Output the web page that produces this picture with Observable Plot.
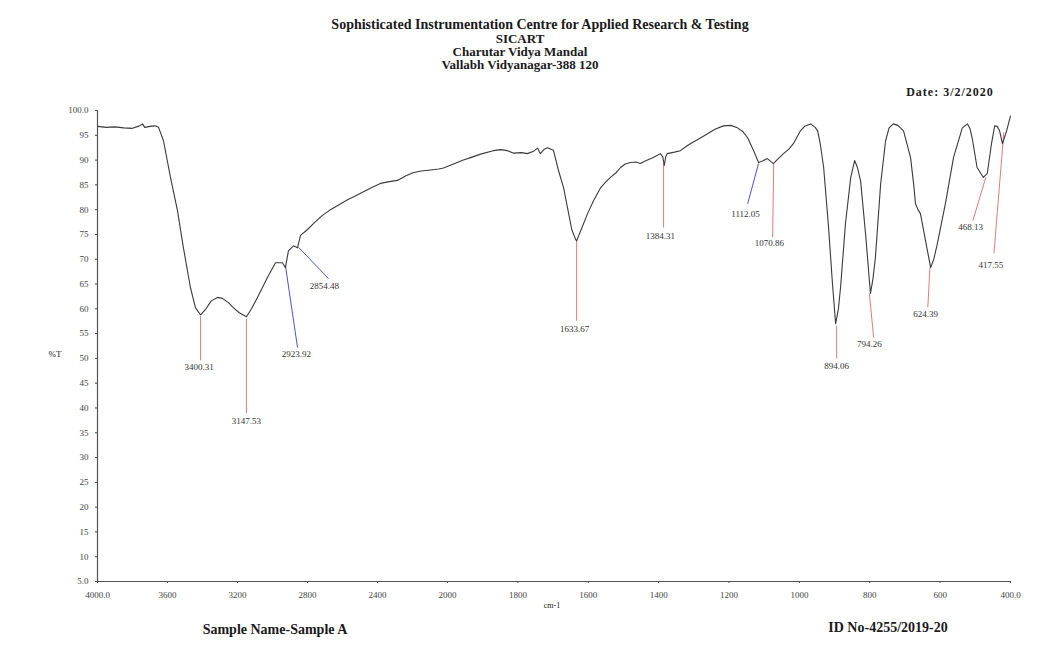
<!DOCTYPE html>
<html><head><meta charset="utf-8">
<script src="https://cdn.jsdelivr.net/npm/d3@7"></script>
<script src="https://cdn.jsdelivr.net/npm/@observablehq/plot@0.6"></script>
<style>
body{margin:0;background:#fff;}
#wrap{position:relative;width:1044px;height:670px;font-family:"Liberation Serif","Times New Roman",serif;}
.t{position:absolute;white-space:nowrap;color:#1a1a1a;transform:translate(-50%,-50%);line-height:1;}
.b{font-weight:bold;}
</style></head><body><div id="wrap"></div>
<script>
// Spectrum (wavenumber cm-1, %T)
const wavenumber = [4000,3950,3900,3850,3800,3760,3743,3730,3700,3670,3651,3623,3583,3543,3509,3469,3440,3411,3380,3350,3314,3286,3250,3223,3190,3149,3120,3086,3029,2983,2943,2926,2909,2880,2857,2840,2800,2766,2720,2669,2620,2571,2530,2480,2430,2383,2340,2286,2240,2194,2150,2097,2050,2023,1990,1955,1930,1906,1870,1849,1830,1812,1790,1773,1755,1744,1736,1725,1716,1699,1685,1670,1659,1647,1636,1633,1620,1602,1585,1565,1550,1537,1520,1508,1495,1480,1465,1452,1435,1415,1395,1388,1384,1380,1376,1355,1338,1325,1310,1285,1261,1240,1216,1195,1176,1160,1147,1130,1116,1105,1091,1074,1060,1045,1030,1017,997,985,968,955,948,940,931,917,906,897,889,883,869,854,843,835,826,812,798,791,784,769,755,745,733,720,704,684,675,670,663,656,636,627,618,608,585,562,537,522,515,509,495,477,466,454,445,438,431,423,411,400];
const transmittance = [96.8,96.6,96.7,96.5,96.4,96.9,97.3,96.6,96.8,96.9,96.6,93.9,86.5,79.8,72.3,64.3,60.2,58.8,60.0,61.6,62.3,62.1,61.2,60.2,59.2,58.4,60.0,62.3,66.3,69.3,69.3,68.3,71.7,72.7,72.3,74.8,76.0,77.2,78.7,80.0,81.0,82.0,82.7,83.6,84.5,85.3,85.6,85.9,86.8,87.5,87.8,88.0,88.2,88.4,89.0,90.0,90.6,91.2,91.9,92.1,91.9,91.4,91.5,91.3,91.8,92.4,91.3,92.2,92.5,92.0,88.0,84.4,80.4,76.0,74.0,73.7,76.0,79.2,81.8,84.4,85.6,86.5,87.5,88.5,89.2,89.5,89.6,89.3,89.9,90.5,91.3,90.6,88.9,90.6,91.3,91.6,91.9,92.6,93.3,94.3,95.3,96.2,96.9,97.0,96.5,95.7,94.5,91.9,89.5,89.8,90.3,89.3,90.3,91.3,92.2,93.3,95.9,96.8,97.3,96.6,95.9,93.0,88.5,76.4,65.1,57.0,60.0,64.3,77.2,86.5,89.9,88.5,85.8,75.2,63.1,66.0,70.3,85.2,93.9,96.5,97.3,97.0,95.9,90.5,85.0,81.2,80.0,79.2,71.7,68.3,70.0,73.1,81.2,90.5,96.5,97.3,96.3,94.5,88.5,86.5,87.3,93.3,96.9,96.8,95.9,93.3,95.9,98.9];

// Axis ticks
const xTicks = [4000,3600,3200,2800,2400,2000,1800,1600,1400,1200,1000,800,600,400];
const xTickLabels = ["4000.0","3600","3200","2800","2400","2000","1800","1600","1400","1200","1000","800","600","400.0"];
const yTicks = [100,95,90,85,80,75,70,65,60,55,50,45,40,35,30,25,20,15,10,5];
const yTickLabels = ["100.0","95","90","85","80","75","70","65","60","55","50","45","40","35","30","25","20","15","10","5.0"];

// Peak annotations
const peakLabels = ["3400.31","3147.53","2923.92","2854.48","1633.67","1384.31","1112.05","1070.86","894.06","794.26","624.39","468.13","417.55"];
const peakKind   = ["red","red","blue","blue","red","red","blue","red","red","red","red","red","red"];
const peakWn     = [3411,3149,2926,2851,1633,1386,1116,1073,894,801,629,470,419];
const peakT      = [58.6,58.0,68.7,72.4,73.8,89.3,89.3,89.3,56.6,63.1,68.3,86.5,95.6];
const leaderWn   = [3411,3149,2857,2680,1633,1386,1147,1076,894,789,635,507,447];
const leaderT    = [49.6,38.9,52.2,66.1,57.6,76.4,81.2,74.4,50.0,54.2,60.3,77.8,71.2];
const labelWn    = [3420,3149,2863,2703,1639,1395,1153,1085,894,801,641,513,456];
const labelT     = [48.3,37.3,50.8,64.5,56.0,74.6,79.2,73.2,48.4,52.8,58.9,76.4,68.9];

const spectrum = wavenumber.map((w, i) => ({w, t: transmittance[i]}));
const peaks = peakLabels.map((label, i) => ({
  label, kind: peakKind[i], x1: peakWn[i], y1: peakT[i], x2: leaderWn[i], y2: leaderT[i], lx: labelWn[i], ly: labelT[i]
}));

const chart = Plot.plot({
  width: 1044, height: 670,
  marginTop: 110, marginBottom: 89, marginLeft: 97, marginRight: 34,
  style: {fontFamily: "Liberation Serif, Times New Roman, serif", fontSize: "9px", color: "#444", background: "transparent"},
  x: {type: "linear", domain: [4000, 2000, 400], range: [97, 447, 1010], ticks: xTicks,
      tickFormat: d => xTickLabels[xTicks.indexOf(d)], tickSize: 2, tickPadding: 8, label: null},
  y: {domain: [5, 100], ticks: yTicks, tickFormat: d => yTickLabels[yTicks.indexOf(d)],
      tickSize: 2, tickPadding: 7, label: null},
  marks: [
    Plot.ruleX([4000], {stroke: "#555", strokeWidth: 1.2}),
    Plot.ruleY([5], {stroke: "#555", strokeWidth: 1.2}),
    Plot.link(peaks.filter(d => d.kind === "red"), {x1: "x1", y1: "y1", x2: "x2", y2: "y2", stroke: "#e67a7a", strokeWidth: 1}),
    Plot.link(peaks.filter(d => d.kind === "blue"), {x1: "x1", y1: "y1", x2: "x2", y2: "y2", stroke: "#5050d8", strokeWidth: 1}),
    Plot.line(spectrum, {x: "w", y: "t", stroke: "#3a3a3a", strokeWidth: 1.1}),
    Plot.text(peaks, {x: "lx", y: "ly", text: "label", fontSize: 9, fill: "#333"})
  ]
});
chart.style.position = "absolute";
chart.style.left = "0px";
chart.style.top = "0px";
const wrap = document.getElementById("wrap");
wrap.appendChild(chart);

const texts = [
  ["Sophisticated Instrumentation Centre for Applied Research &amp; Testing", 540, 25, 14, true, 0],
  ["SICART", 520, 38, 13, true, 0],
  ["Charutar Vidya Mandal", 520, 51, 13, true, 0],
  ["Vallabh Vidyanagar-388 120", 520, 64, 13, true, 0],
  ["Date: 3/2/2020", 950, 92, 12, true, 1],
  ["%T", 55, 354, 9, false, 0],
  ["cm-1", 552, 606, 8, false, 0],
  ["Sample Name-Sample A", 275, 630, 14, true, 0],
  ["ID No-4255/2019-20", 888, 628, 14, true, 0]
];
for (const [s, x, y, fs, bold, ls] of texts) {
  const d = document.createElement("div");
  d.className = "t" + (bold ? " b" : "");
  d.innerHTML = s;
  d.style.left = x + "px";
  d.style.top = y + "px";
  d.style.fontSize = fs + "px";
  d.style.letterSpacing = ls + "px";
  wrap.appendChild(d);
}
</script></body></html>
